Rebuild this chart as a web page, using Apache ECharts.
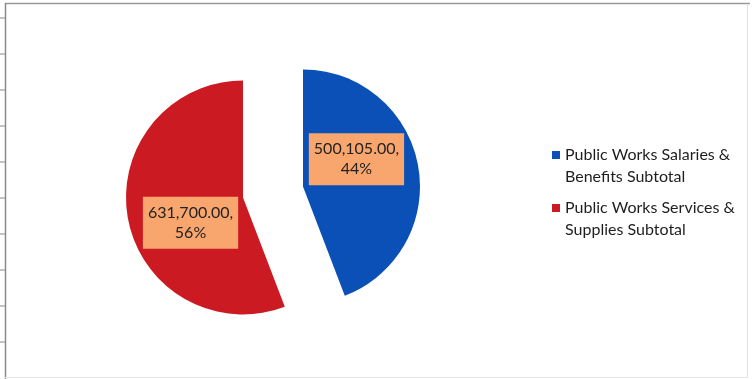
<!DOCTYPE html>
<html>
<head>
<meta charset="utf-8">
<script src="https://cdn.jsdelivr.net/npm/echarts@6/dist/echarts.min.js"></script>
<style>
html,body{margin:0;padding:0;background:#fff;}
#c{width:752px;height:379px;}
</style>
</head>
<body>
<div id="c"></div>
<script>
const categories = ['Public Works Salaries & Benefits Subtotal', 'Public Works Services & Supplies Subtotal'];
const values = [500105.00, 631700.00];
const legendLines = [['Public Works Salaries &', 'Benefits Subtotal'], ['Public Works Services &', 'Supplies Subtotal']];
const colors = ['#0A50B6', '#CB1A22'];

const chart = echarts.init(document.getElementById('c'));
const FONT = 'Lato';

const border = [];
// left tick artifacts
[18, 54, 90, 126, 162, 198, 234, 270, 306, 342].forEach(y => {
  border.push({type: 'line', shape: {x1: 0, y1: y, x2: 5, y2: y}, style: {stroke: '#8a8a8a', lineWidth: 1}, silent: true});
});
border.push({type: 'line', shape: {x1: 5, y1: 3.5, x2: 750, y2: 3.5}, style: {stroke: '#9a9a9a', lineWidth: 1.5}, silent: true});
border.push({type: 'line', shape: {x1: 5.5, y1: 3, x2: 5.5, y2: 379}, style: {stroke: '#8a8a8a', lineWidth: 1.5}, silent: true});
border.push({type: 'line', shape: {x1: 747.5, y1: 4, x2: 747.5, y2: 378}, style: {stroke: '#e2e2e2', lineWidth: 1}, silent: true});
border.push({type: 'line', shape: {x1: 5, y1: 377.5, x2: 748, y2: 377.5}, style: {stroke: '#e6e6e6', lineWidth: 1}, silent: true});

chart.setOption({
  animation: false,
  backgroundColor: '#fff',
  graphic: border,
  legend: {
    orient: 'vertical',
    left: 552,
    top: 122,
    padding: 0,
    itemWidth: 8,
    itemHeight: 8,
    itemGap: -13,
    icon: 'rect',
    selectedMode: false,
    data: categories,
    formatter: function (name) {
      return '\u00a0\n' + legendLines[categories.indexOf(name)].join('\n');
    },
    textStyle: {
      fontFamily: FONT,
      fontSize: 16,
      color: '#1e1e1e',
      lineHeight: 22
    }
  },
  series: [{
    type: 'pie',
    center: [273, 192],
    radius: 117,
    startAngle: 90,
    clockwise: true,
    selectedMode: 'multiple',
    selectedOffset: 30.5,
    emphasis: {disabled: true},
    select: {itemStyle: {borderWidth: 0}},
    label: {
      show: true,
      position: 'inside',
      fontFamily: FONT,
      fontSize: 16,
      color: '#222',
      lineHeight: 20,
      backgroundColor: '#F9A66E',
      padding: [6, 5],
      formatter: function (p) {
        return p.value.toLocaleString('en-US', {minimumFractionDigits: 2, maximumFractionDigits: 2}) + ',\n' + Math.round(p.percent) + '%';
      }
    },
    labelLayout: function (p) {
      return p.dataIndex === 0 ? {dx: -7, dy: -16} : {dx: 8, dy: 14};
    },
    labelLine: {show: false},
    data: categories.map((n, i) => ({
      name: n,
      value: values[i],
      selected: true,
      itemStyle: {color: colors[i]}
    }))
  }]
});
</script>
</body>
</html>
